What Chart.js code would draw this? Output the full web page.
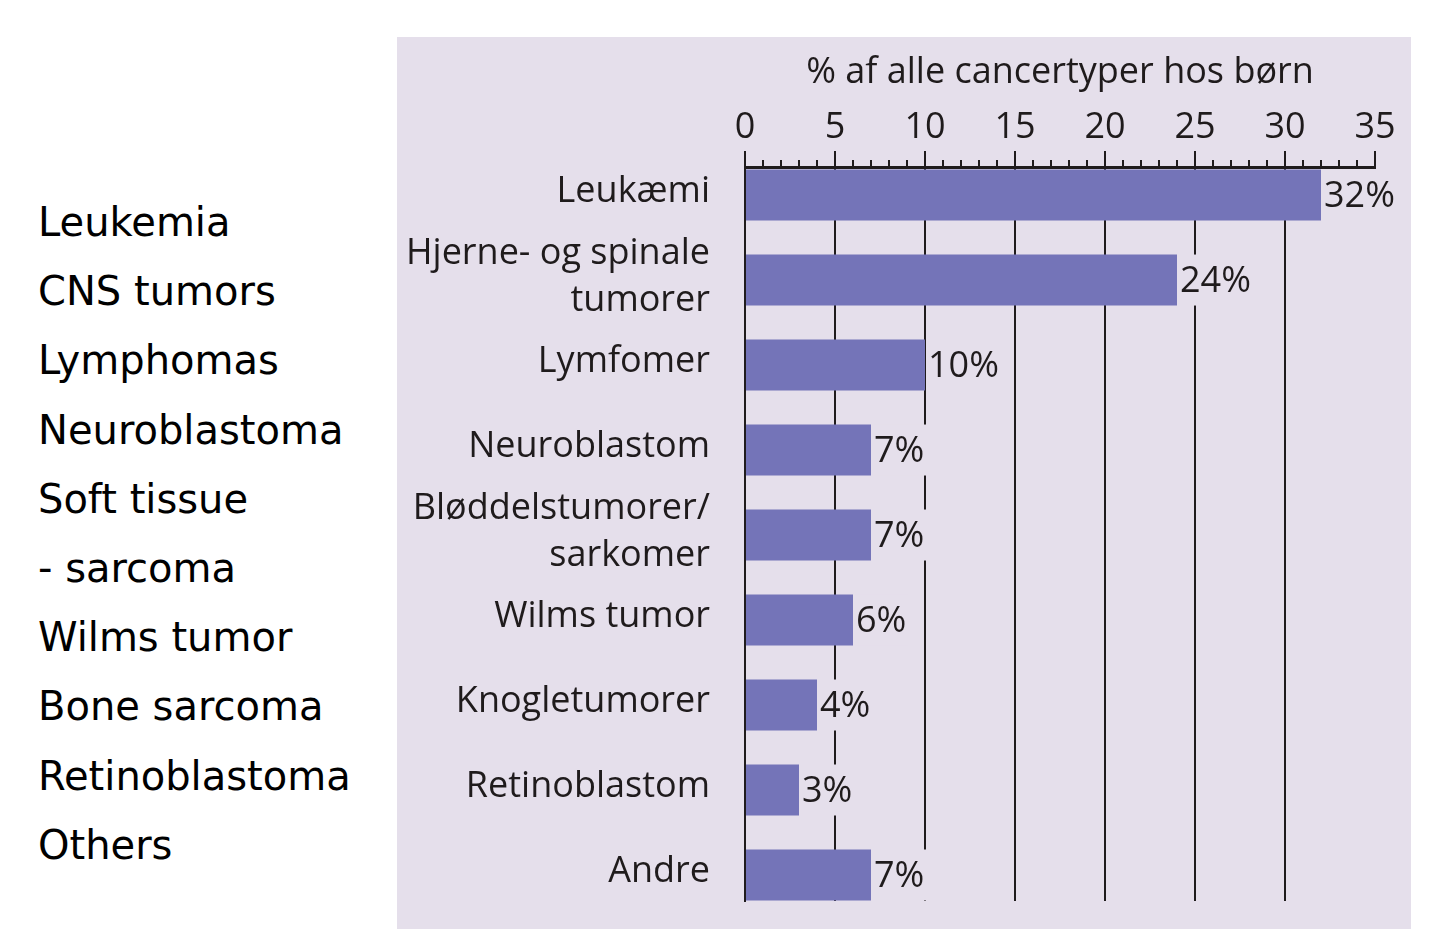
<!DOCTYPE html>
<html>
<head>
<meta charset="utf-8">
<title>Cancertyper hos børn</title>
<script src="https://cdn.jsdelivr.net/npm/chart.js@4.4.1/dist/chart.umd.min.js"></script>
<style>
  html, body { margin: 0; padding: 0; background: #fff; }
  body { width: 1438px; height: 939px; position: relative; overflow: hidden; }
  #english {
    position: absolute; left: 38px; top: 188px;
    font-family: "DejaVu Sans", sans-serif; font-size: 40px;
    line-height: 69.2px; color: #000; white-space: nowrap;
  }
  #panel { position: absolute; left: 397px; top: 37px; width: 1014px; height: 892px; background: #e5dfeb; }
  #panel canvas { display: block; }
</style>
</head>
<body>
<div id="english"></div>
<div id="panel"><canvas id="cancerChart" width="1014" height="892"></canvas></div>
<script>
// Danish categories (top to bottom) and share of all childhood cancers, in %
const categories = [
  'Leukæmi',
  ['Hjerne- og spinale', 'tumorer'],
  'Lymfomer',
  'Neuroblastom',
  ['Bløddelstumorer/', 'sarkomer'],
  'Wilms tumor',
  'Knogletumorer',
  'Retinoblastom',
  'Andre'
];
const percentages = [32, 24, 10, 7, 7, 6, 4, 3, 7];

// English translation column on the left
const englishNames = [
  'Leukemia', 'CNS tumors', 'Lymphomas', 'Neuroblastoma', 'Soft tissue',
  '- sarcoma', 'Wilms tumor', 'Bone sarcoma', 'Retinoblastoma', 'Others'
];

const panelColor = '#e5dfeb';
const barColor = '#7474b8';
const inkColor = '#1f1b1c';
const fontFamily = '"Open Sans", sans-serif';

document.getElementById('english').innerHTML =
  englishNames.map(n => '<div>' + n + '</div>').join('');

// value labels ("32%") right of each bar, on a panel-coloured patch
const barValueLabels = {
  id: 'barValueLabels',
  afterDatasetsDraw(chart) {
    const ctx = chart.ctx;
    const meta = chart.getDatasetMeta(0);
    ctx.save();
    ctx.font = '36px ' + fontFamily;
    ctx.textBaseline = 'middle';
    meta.data.forEach((bar, i) => {
      const text = percentages[i] + '%';
      const w = ctx.measureText(text).width;
      const x = bar.x + 3;
      ctx.fillStyle = panelColor;
      ctx.fillRect(x - 1, bar.y - bar.height / 2, w + 3, bar.height);
      ctx.fillStyle = inkColor;
      ctx.fillText(text, x, bar.y + 2);
    });
    ctx.restore();
  }
};

const ctx = document.getElementById('cancerChart').getContext('2d');

window.cancerChart = new Chart(ctx, {
  type: 'bar',
  data: {
    datasets: [{
      data: percentages.map((v, i) => ({ x: v, y: i })),
      backgroundColor: barColor,
      borderWidth: 0,
      barPercentage: 0.6,
      categoryPercentage: 1
    }]
  },
  options: {
    indexAxis: 'y',
    responsive: false,
    animation: false,
    layout: { padding: { left: 0, top: 0, right: 36, bottom: 28 } },
    plugins: {
      legend: { display: false },
      tooltip: { enabled: false }
    },
    scales: {
      x: {
        type: 'linear',
        position: 'top',
        min: 0,
        max: 35,
        afterFit: (scale) => { scale.height = 130; },
        title: {
          display: true,
          text: '% af alle cancertyper hos børn',
          color: inkColor,
          font: { family: fontFamily, size: 36 },
          padding: { top: 14, bottom: 0 }
        },
        ticks: {
          stepSize: 1,
          autoSkip: false,
          maxRotation: 0,
          padding: 2,
          color: inkColor,
          font: { family: fontFamily, size: 36 },
          callback: (v) => (v % 5 === 0 ? v : '')
        },
        grid: {
          drawOnChartArea: true,
          lineWidth: 2,
          color: (c) => (c.tick && c.tick.value % 5 === 0 && c.tick.value > 0 && c.tick.value < 35) ? inkColor : 'transparent',
          tickColor: inkColor,
          tickWidth: 2,
          tickLength: 16,
          // minor ticks: only the lower part of the tick is drawn
          tickBorderDash: (c) => (c.tick && c.tick.value % 5 === 0) ? [] : [0, 9, 7, 0]
        },
        border: { display: true, color: inkColor, width: 3 }
      },
      y: {
        type: 'linear',
        reverse: true,
        offset: false,
        min: -0.33,
        max: 8.306,
        afterFit: (scale) => {
          scale.width = 348;
          scale.paddingTop = 0;
          scale.paddingBottom = 0;
        },
        afterBuildTicks: (scale) => {
          scale.ticks = categories.map((_, i) => ({ value: i }));
        },
        ticks: {
          autoSkip: false,
          padding: 35,
          labelOffset: -3,
          color: inkColor,
          font: { family: fontFamily, size: 36, lineHeight: 1.3 },
          callback: (v) => categories[v]
        },
        grid: { display: false, drawTicks: false, offset: false },
        border: { display: true, color: inkColor, width: 2 }
      }
    }
  },
  plugins: [barValueLabels]
});
</script>
</body>
</html>
